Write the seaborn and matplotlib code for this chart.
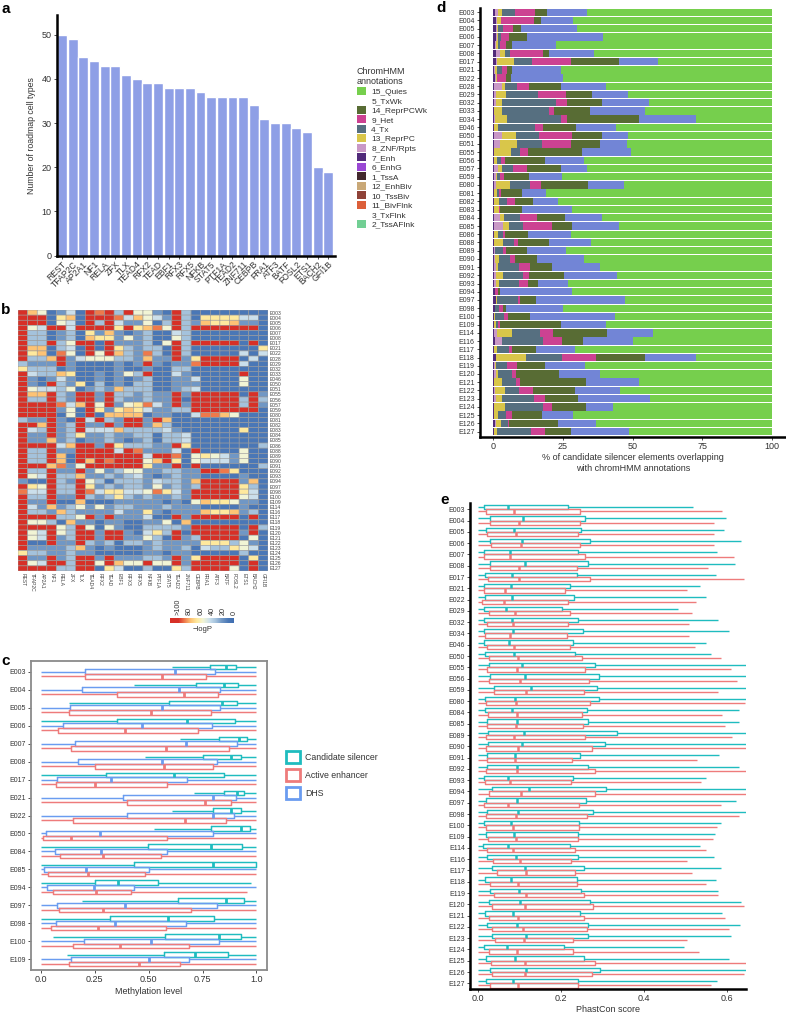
import numpy as np
import pandas as pd
import matplotlib
matplotlib.use("Agg")
import matplotlib.pyplot as plt
import seaborn as sns
from matplotlib.colors import LinearSegmentedColormap
from matplotlib.patches import Patch

# ---- panel a
tf_names = ["REST", "TFAP2C", "AP2A1", "NF1", "RELA", "ZFX", "TLX", "TEAD4", "RFX2", "TEAD", "EBF1", "RFX3", "RFX5",
            "NFKB", "STAT5", "PTF1A", "TEAD2", "ZNF711", "CEBPB", "FRA1", "ATF3", "BATF", "FOSL2", "ETS1", "BACH2", "GFI1B"]
tf_counts = [50, 49, 45, 44, 43, 43, 41, 40, 39, 39, 38, 38, 38, 37, 36, 36, 36, 36, 34, 31, 30, 30, 29, 28, 20, 19]

chrom_labels = ["15_Quies", "5_TxWk", "14_ReprPCWk", "9_Het", "4_Tx", "13_ReprPC", "8_ZNF/Rpts", "7_Enh", "6_EnhG",
                "1_TssA", "12_EnhBiv", "10_TssBiv", "11_BivFlnk", "3_TxFlnk", "2_TssAFlnk"]
chrom_colors = ["#76cf4d", "#ffffff", "#586c34", "#cc4292", "#566f80", "#d9c64a", "#c998c6", "#512a7a", "#9a48d4",
                "#43292e", "#c9a877", "#8f4238", "#dc5f3a", "#ffffff", "#72cf94"]

# ---- panel b, each digit is the colour level of a cell (0 blue .. 9 red)
heat_cols = ["REST", "TFAP2C", "AP2A1", "NF1", "RELA", "ZFX", "TLX", "TEAD4", "RFX2", "TEAD", "EBF1", "RFX3", "RFX5",
             "NFKB", "PTF1A", "STAT5", "TEAD2", "ZNF711", "CEBPB", "FRA1", "ATF3", "BATF", "FOSL2", "ETS1", "BACH2", "GFI1B"]
heat_cells = ["E003", "E004", "E005", "E006", "E007", "E008", "E017", "E021", "E022", "E028", "E029", "E032", "E033",
              "E046", "E050", "E051", "E055", "E056", "E057", "E059", "E080", "E081", "E082", "E083", "E084", "E085",
              "E086", "E088", "E089", "E090", "E091", "E092", "E093", "E094", "E097", "E098", "E100", "E109", "E114",
              "E116", "E117", "E118", "E119", "E120", "E121", "E122", "E123", "E124", "E125", "E126", "E127"]
heat_rows = [
    "97512419893955219311111111", "99916719998475429316666441", "99915419394225139327667221",
    "95499499996967859399999991", "93312316272123114311111111", "93312317662523115311111111",
    "93393599192223159399999191", "97713419196323319311111116", "96718519597328319311111414",
    "93379245553327229269999141", "32229211112129212289999411", "63331211112112113311111111",
    "94337611212539114211111911", "92124211212123112241111511", "92193261312133112221111511",
    "95443512327333112341111111", "97793299293323229299999192", "93393299293223229199999393",
    "99998479592568429299999392", "99992519626764223399999991", "99991519177771221148875111",
    "32292194932992971111111111", "99792392292992731111111111", "94392394447333342111111611",
    "92292362232233133411111111", "92272312232123133411111111", "99994799296333229611111113",
    "93392299994982224191111511", "93397199999994998156542511", "93397197989995796154442511",
    "99978259999996229191111113", "93392292523552233229986111", "95493372232342123221111211",
    "21193295313332433279999271", "96593396232332523239999631", "84493398466445864299999641",
    "93392293236323223299999541", "92291171112222212157665221", "94272352523322232221111211",
    "93327322224226212227667231", "99993359292224119299999191", "95531722122112251711111111",
    "99995395152113333299999193", "95495399299214639199999291", "95492399299225319239999151",
    "91192293231332322226663521", "92222372121112322314336541", "63322322111112212211111311",
    "92292399292223329269999161", "95499399597559559299999191", "99993399164113116399995191"]

# ---- panel c
c_cells = ["E003", "E004", "E005", "E006", "E007", "E008", "E017", "E021", "E022", "E050", "E084", "E085", "E094",
           "E097", "E098", "E100", "E109"]
c_sil_lo = [.606, .431, .128, 0, .646, .482, 0, .71, .606, .527, 0, 0, 0, .192, 0, .057, .122]
c_sil_q1 = [.784, .72, .595, .354, .828, .75, .304, .849, .80, .788, .498, .43, .25, .638, .32, .578, .569]
c_sil_med = [.86, .85, .84, .68, .92, .88, .618, .91, .883, .93, .79, .80, .359, .86, .59, .824, .716]
c_sil_q3 = [.907, .915, .91, .90, .955, .93, .85, .944, .93, .97, .935, 1.0, .541, .943, .805, .93, .87]
c_sil_hi = [1, 1, 1, 1, 1, 1, 1, 1, 1, 1, 1, 1, .974, 1, 1, 1, 1]
c_dhs_q1 = [.204, .19, .134, .104, .156, .17, .076, .379, .40, .025, .065, .014, .03, .076, .07, .20, .14]
c_dhs_med = [.62, .64, .564, .467, .672, .56, .325, .80, .80, .274, .28, .207, .244, .388, .342, .513, .50]
c_dhs_q3 = [.807, .83, .83, .794, .91, .816, .68, .904, .896, .80, .587, .502, .431, .815, .675, .824, .688]
c_enh_q1 = [.204, .354, .13, .08, .14, .25, .068, .40, .15, .011, .09, .034, .057, .083, .048, .15, .128]
c_enh_med = [.564, .665, .51, .388, .58, .57, .25, .76, .67, .14, .289, .22, .255, .29, .266, .369, .457]
c_enh_q3 = [.765, .82, .79, .73, .873, .80, .587, .883, .86, .587, .555, .482, .416, .697, .581, .686, .646]
c_enh_hi = [1, 1, 1, 1, 1, 1, 1, 1, 1, 1, 1, 1, .954, 1, 1, 1, 1]

# ---- panel d, running totals in % along each bar
d_cells = ["E003", "E004", "E005", "E006", "E007", "E008", "E017", "E021", "E022", "E028", "E029", "E032", "E033",
           "E034", "E046", "E050", "E051", "E055", "E056", "E057", "E059", "E080", "E081", "E082", "E083", "E084",
           "E085", "E086", "E088", "E089", "E090", "E091", "E092", "E093", "E094", "E097", "E098", "E100", "E109",
           "E114", "E116", "E117", "E118", "E119", "E120", "E121", "E122", "E123", "E124", "E125", "E126", "E127"]
d_enh = [.6, 1, 1, 1, .5, 1, .8, .4, .5, .1, .1, .1, .1, .1, .1, .1, .1, .1, .1, .1, .4, .1, .1, .1, .1, .1, .2, .1,
         .1, .1, .4, .4, .1, .1, .5, 1, .6, .1, .1, .1, .5, .1, 1, .1, .1, .1, .2, .4, .1, .1, .6, .1]
d_znf = [1.7, 1.3, 1.2, 1.3, .8, 2.5, 1.3, .7, 1, 3, 1, 1, .4, .7, .4, 3, 2.4, .2, .2, 1.7, 1, 1, .2, .2, .2, 2.4,
         3.6, .2, .2, .5, .7, 1, 1, 1.1, .7, 1.1, .7, .4, .2, 1.3, 3.3, .2, 1.1, .6, .8, .2, .7, 1, .2, .2, .8, .2]
d_reprpc = [3.3, 2.9, 1.7, 1.7, 1.6, 4.3, 7.4, 1.2, 1.3, 4.1, 4.4, 3, 3, 4.8, 1.7, 8.1, 8.6, 6.2, 1.3, 3.3, 1.4,
            6.1, 1.4, 2, 2, 3.8, 5.5, 1.8, 3.6, .6, 2, 1.6, 3.6, 2, .7, 1.2, .7, .6, 1.1, 6.8, 3.3, 1.2, 11.8, .8,
            1.7, 3.2, 4.1, 3.3, 4.2, 1.6, 2.8, 1.4]
d_tx = [7.7, 2.9, 3.5, 2.8, 2.3, 6.1, 14, 3.1, 1.4, 8.6, 16.1, 22.5, 20.1, 24.2, 15, 16.3, 17.6, 9.6, 2.8, 7.2, 2.3,
        13.2, 1.9, 4.8, 2.2, 9.6, 10.5, 3.6, 7.5, 3.6, 6, 9.2, 10.8, 9.2, .7, 9, 1.9, 3.9, 1.6, 16.9, 17.8, 5.6,
        24.5, 4.9, 6.8, 8.1, 9.3, 14.5, 17.7, 4.5, 5.1, 13.5]
d_het = [15.1, 14.5, 7.1, 5.6, 4.4, 17.8, 27.9, 4.9, 4.5, 12.9, 26, 26.3, 21.8, 26.4, 17.7, 28.2, 27.7, 12.4, 4.2,
         12, 3.9, 17.1, 2.6, 7.7, 2.5, 15.8, 21, 4.2, 8.7, 4.5, 7.8, 13, 12.9, 12.4, 1.6, 9.6, 3.5, 5.1, 2.4, 21.3,
         24.5, 6.8, 36.7, 8.6, 8.1, 9.6, 14.1, 18.7, 21, 6.7, 5.7, 18.4]
d_reprpcwk = [19.4, 17.1, 9.9, 12, 6.7, 20, 45.1, 6.7, 6.3, 24.3, 35.4, 39, 34.7, 52.3, 29.7, 39, 38.2, 31.8, 18.4,
              24.4, 12.7, 34, 10.3, 14.4, 10.3, 25.8, 28.2, 12.4, 19.9, 12.2, 15.5, 21.2, 25.2, 16.1, 2.4, 15.4,
              4.5, 13, 24.3, 40.9, 32.2, 15.4, 54.4, 18.7, 23.7, 33.2, 29.3, 30.4, 33.2, 17.5, 23.2, 27.9]
d_txwk = [33.5, 28.6, 30, 39.3, 22.4, 36.1, 59.2, 24.2, 25, 40.3, 48.3, 55.9, 54.4, 72.7, 44.1, 48.2, 47.8, 49.4,
          32.5, 33.6, 24.6, 47, 18.8, 23.1, 28.2, 39, 45.1, 27.9, 35, 26.1, 32.6, 38.4, 44.3, 26.7, 28.2, 47.2, 25,
          43.7, 40.4, 57.2, 50.2, 29.2, 72.7, 32.9, 38.3, 52.3, 45.6, 56.2, 42.9, 28.5, 36.8, 48.7]
d_quies = [100] * 52

# ---- panel e
e_cells = ["E003", "E004", "E005", "E006", "E007", "E008", "E017", "E021", "E022", "E029", "E032", "E034", "E046",
           "E050", "E055", "E056", "E059", "E080", "E084", "E085", "E089", "E090", "E091", "E092", "E093", "E094",
           "E097", "E098", "E100", "E109", "E114", "E116", "E117", "E118", "E119", "E120", "E121", "E122", "E123",
           "E124", "E125", "E126", "E127"]
e_sil_q1 = [.014, .030, .019, .029, .015, .029, .017, .015, .017, .014, .016, .016, .014, .017, .026, .029, .039,
            .017, .017, .022, .025, .024, .022, .022, .014, .034, .020, .022, .016, .021, .012, .022, .035, .018,
            .030, .026, .018, .022, .034, .014, .021, .030, .019]
e_sil_med = [.074, .110, .088, .107, .078, .114, .082, .079, .082, .067, .082, .085, .076, .087, .107, .114, .127,
             .090, .083, .094, .112, .106, .090, .094, .072, .123, .094, .098, .081, .088, .074, .091, .113, .081,
             .100, .102, .085, .095, .117, .070, .090, .116, .086]
e_sil_q3 = [.217, .257, .249, .271, .240, .266, .239, .223, .231, .203, .242, .252, .230, .235, .283, .291, .288,
            .292, .263, .265, .334, .307, .245, .265, .228, .309, .261, .278, .244, .241, .222, .242, .256, .239,
            .249, .269, .247, .266, .265, .208, .255, .295, .242]
e_sil_hi = [.518, .596, .592, .634, .576, .618, .572, .535, .549, .482, .577, .604, .550, .562, .66, .66, .66, .66,
            .629, .628, .66, .66, .580, .627, .550, .66, .620, .66, .584, .571, .534, .569, .584, .572, .577, .632,
            .588, .630, .608, .495, .603, .66, .576]
e_enh_q1 = [.021, .029, .023, .031, .015, .030, .025, .014, .011, .026, .023, .017, .023, .026, .023, .026, .038,
            .021, .025, .023, .019, .021, .023, .021, .018, .026, .014, .020, .020, .024, .022, .036, .047, .029,
            .039, .034, .026, .034, .042, .028, .033, .034, .029]
e_enh_med = [.087, .099, .091, .104, .078, .099, .099, .066, .064, .090, .086, .078, .087, .098, .094, .101, .115,
             .093, .094, .091, .088, .097, .090, .094, .078, .105, .074, .091, .084, .093, .086, .102, .117, .098,
             .116, .114, .098, .110, .112, .095, .113, .113, .098]
e_enh_q3 = [.247, .245, .242, .247, .257, .239, .271, .209, .218, .223, .218, .215, .223, .250, .259, .267, .255,
            .271, .251, .252, .257, .274, .226, .283, .225, .283, .244, .263, .243, .242, .234, .224, .235, .238,
            .256, .278, .255, .262, .228, .230, .282, .275, .242]
e_enh_hi = [.588, .569, .568, .567, .617, .553, .639, .502, .524, .516, .509, .509, .523, .585, .609, .623, .578,
            .642, .588, .595, .611, .66, .528, .66, .536, .66, .584, .627, .576, .566, .550, .504, .516, .550, .578,
            .640, .594, .604, .504, .532, .66, .639, .562]

SIL = "#1fbcbf"
ENH = "#ee7b7b"
DHS = "#6a9cf0"
W, H = 786, 1017

sns.set_theme(style="white")
plt.rcParams["font.family"] = ["Liberation Sans", "DejaVu Sans"]
plt.rcParams["text.color"] = "#333333"
plt.rcParams["axes.labelcolor"] = "#333333"
plt.rcParams["xtick.color"] = "#333333"
plt.rcParams["ytick.color"] = "#333333"

fig = plt.figure(figsize=(W / 100, H / 100), dpi=100)


def px_axes(left, top, right, bottom):
    return fig.add_axes([left / W, 1 - bottom / H, (right - left) / W, (bottom - top) / H])


def long_boxes(cells, name, lo, q1, med, q3, hi):
    # five numbers per box, their quartiles are exactly q1/med/q3
    frames = []
    for vals in (lo, q1, med, q3, hi):
        frames.append(pd.DataFrame({"cell": cells, "kind": name, "value": vals}))
    return pd.concat(frames)


def black_spines(ax):
    sns.despine(ax=ax)
    for side in ("left", "bottom"):
        ax.spines[side].set_linewidth(1.8)
        ax.spines[side].set_color("black")


# a
ax = px_axes(56.5, 15, 334.5, 255.5)
sns.barplot(x=tf_names, y=tf_counts, color="#8e9fe6", saturation=1, width=0.93, ax=ax)
ax.set_xlim(-0.52, 25.58)
ax.set_ylim(0, 54.5)
ax.set_yticks([0, 10, 20, 30, 40, 50])
ax.set_ylabel("Number of roadmap cell types", fontsize=6.3, labelpad=4)
ax.tick_params(axis="y", labelsize=6.5, left=True, length=2, width=0.6, pad=1.5)
ax.tick_params(axis="x", labelsize=6.2, bottom=True, length=2, width=0.6, pad=1)
plt.setp(ax.get_xticklabels(), rotation=45, ha="right", rotation_mode="anchor")
black_spines(ax)

chrom_handles = [Patch(facecolor=c, edgecolor="none") for c in chrom_colors]
fig.legend(chrom_handles, chrom_labels, loc="upper left", bbox_to_anchor=(355 / W, 1 - 65 / H), frameon=False,
           title="ChromHMM\nannotations", alignment="left", title_fontsize=6.5, fontsize=6, handlelength=1.15,
           handleheight=1.1, labelspacing=0.08, handletextpad=0.6, borderpad=0.2, borderaxespad=0)

# b
heat_values = np.array([[int(c) for c in row] for row in heat_rows]) * 100 / 9
heat_cmap = LinearSegmentedColormap.from_list("logp", [
    (0, "#3f6db0"), (11 / 116, "#4a77b6"), (22 / 116, "#6f96c4"), (33 / 116, "#a3c1dc"), (44 / 116, "#c9deec"),
    (56 / 116, "#f3f5d4"), (67 / 116, "#fee99d"), (78 / 116, "#fdc274"), (89 / 116, "#ee7a4c"), (100 / 116, "#d73027"),
    (1, "#d73027")])
ax = px_axes(18, 310, 268, 571)
sns.heatmap(heat_values, cmap=heat_cmap, vmin=0, vmax=116, cbar=False, linewidths=0.4, linecolor="#9a9a9a",
            snap=False, antialiased=True, xticklabels=heat_cols, yticklabels=heat_cells, ax=ax)
ax.yaxis.tick_right()
ax.tick_params(axis="both", length=0, labelsize=3.6, pad=1.5, labelcolor="#444444")
plt.setp(ax.get_yticklabels(), rotation=0)
plt.setp(ax.get_xticklabels(), rotation=270, ha="center", va="top")

cax = px_axes(170, 618, 235, 623)
cb = fig.colorbar(ax.collections[0], cax=cax, orientation="horizontal")
cb.outline.set_visible(False)
cax.set_xlim(115, -1)
cb.set_ticks([100, 80, 60, 40, 20, 0], labels=[">100", "80", "60", "40", "20", "0"])
cax.xaxis.set_ticks_position("top")
cax.tick_params(axis="x", length=0, labelsize=5.2, pad=2, labelcolor="#333333")
plt.setp(cax.get_xticklabels(), rotation=90, ha="center", va="bottom")
cax.set_xlabel("\u2212logP", fontsize=5.5, labelpad=2.5)

# c
c_df = pd.concat([
    long_boxes(c_cells, "Candidate silencer", c_sil_lo, c_sil_q1, c_sil_med, c_sil_q3, c_sil_hi),
    long_boxes(c_cells, "DHS", [0] * 17, c_dhs_q1, c_dhs_med, c_dhs_q3, [1] * 17),
    long_boxes(c_cells, "Active enhancer", [0] * 17, c_enh_q1, c_enh_med, c_enh_q3, c_enh_hi)])
ax = px_axes(31, 661, 267, 970)
sns.boxplot(data=c_df, x="value", y="cell", hue="kind", order=c_cells,
            hue_order=["Candidate silencer", "DHS", "Active enhancer"],
            palette={"Candidate silencer": SIL, "DHS": DHS, "Active enhancer": ENH},
            whis=(0, 100), showcaps=False, showfliers=False, fill=False, width=0.78, gap=0, linewidth=1.05,
            medianprops={"linewidth": 2}, legend=False, ax=ax)
ax.set_xlim(-0.046, 1.049)
ax.set_ylim(16.6, -0.6)
ax.set_xticks([0, 0.25, 0.5, 0.75, 1])
ax.set_xticklabels(["0.0", "0.25", "0.50", "0.75", "1.0"])
ax.set_xlabel("Methylation level", fontsize=6.5, labelpad=2.5)
ax.set_ylabel("")
ax.tick_params(axis="x", labelsize=6.5, bottom=True, length=2, width=0.6, pad=1.5)
ax.tick_params(axis="y", labelsize=5, left=True, length=2, width=0.6, pad=1.5)
for side in ax.spines.values():
    side.set_color("#8a8a8a")
    side.set_linewidth(1.3)

box_handles = [Patch(facecolor="white", edgecolor=c, linewidth=2) for c in (SIL, ENH, DHS)]
fig.legend(box_handles, ["Candidate silencer", "Active enhancer", "DHS"], loc="upper left",
           bbox_to_anchor=(284 / W, 1 - 749 / H), frameon=False, fontsize=6.3, handlelength=1.65, handleheight=1.75,
           labelspacing=0.68, handletextpad=0.55, borderpad=0.2, borderaxespad=0)

# d, longest running total first so that the shorter ones sit on top
ax = px_axes(479.5, 8, 786, 436.7)
d_layers = [(d_quies, "#76cf4d"), (d_txwk, "#7285d6"), (d_reprpcwk, "#586c34"), (d_het, "#cc4292"), (d_tx, "#566f80"),
            (d_reprpc, "#d9c64a"), (d_znf, "#c998c6"), (d_enh, "#512a7a")]
for vals, col in d_layers:
    sns.barplot(x=vals, y=d_cells, color=col, saturation=1, width=0.9, linewidth=0, ax=ax)
ax.set_xlim(-4.95, 105)
ax.set_ylim(51.63, -0.52)
ax.set_xticks([0, 25, 50, 75, 100])
ax.set_xlabel("% of candidate silencer elements overlapping\nwith chromHMM annotations", fontsize=6.5, labelpad=2)
ax.tick_params(axis="x", labelsize=6.5, bottom=True, length=2, width=0.6, pad=1.5)
ax.tick_params(axis="y", labelsize=5, left=True, length=2, width=0.6, pad=1.5)
black_spines(ax)

# e
e_df = pd.concat([
    long_boxes(e_cells, "Candidate silencer", [0] * 43, e_sil_q1, e_sil_med, e_sil_q3, e_sil_hi),
    long_boxes(e_cells, "Active enhancer", [0] * 43, e_enh_q1, e_enh_med, e_enh_q3, e_enh_hi)])
ax = px_axes(470, 503.3, 746, 989.3)
sns.boxplot(data=e_df, x="value", y="cell", hue="kind", order=e_cells, hue_order=["Candidate silencer", "Active enhancer"],
            palette={"Candidate silencer": SIL, "Active enhancer": ENH}, whis=(0, 100), showcaps=False,
            showfliers=False, fill=False, width=0.76, gap=0, linewidth=1, medianprops={"linewidth": 1.8},
            legend=False, ax=ax)
ax.set_xlim(-0.0185, 0.645)
ax.set_ylim(42.53, -0.53)
ax.set_xticks([0, 0.2, 0.4, 0.6])
ax.set_xticklabels(["0.0", "0.2", "0.4", "0.6"])
ax.set_xlabel("PhastCon score", fontsize=6.5, labelpad=1.5)
ax.set_ylabel("")
ax.tick_params(axis="x", labelsize=6.5, bottom=True, length=2, width=0.6, pad=1.5)
ax.tick_params(axis="y", labelsize=5, left=True, length=2, width=0.6, pad=1.5)
black_spines(ax)

# panel letters
for letter, x, y in [("a", 1, 9), ("b", 1, 310), ("c", 1, 661), ("d", 436, 8), ("e", 440, 500)]:
    fig.text(x / W, 1 - y / H, letter, fontsize=11, fontweight="bold", color="black", va="center", ha="left")

fig.savefig("out.png", dpi=100)
